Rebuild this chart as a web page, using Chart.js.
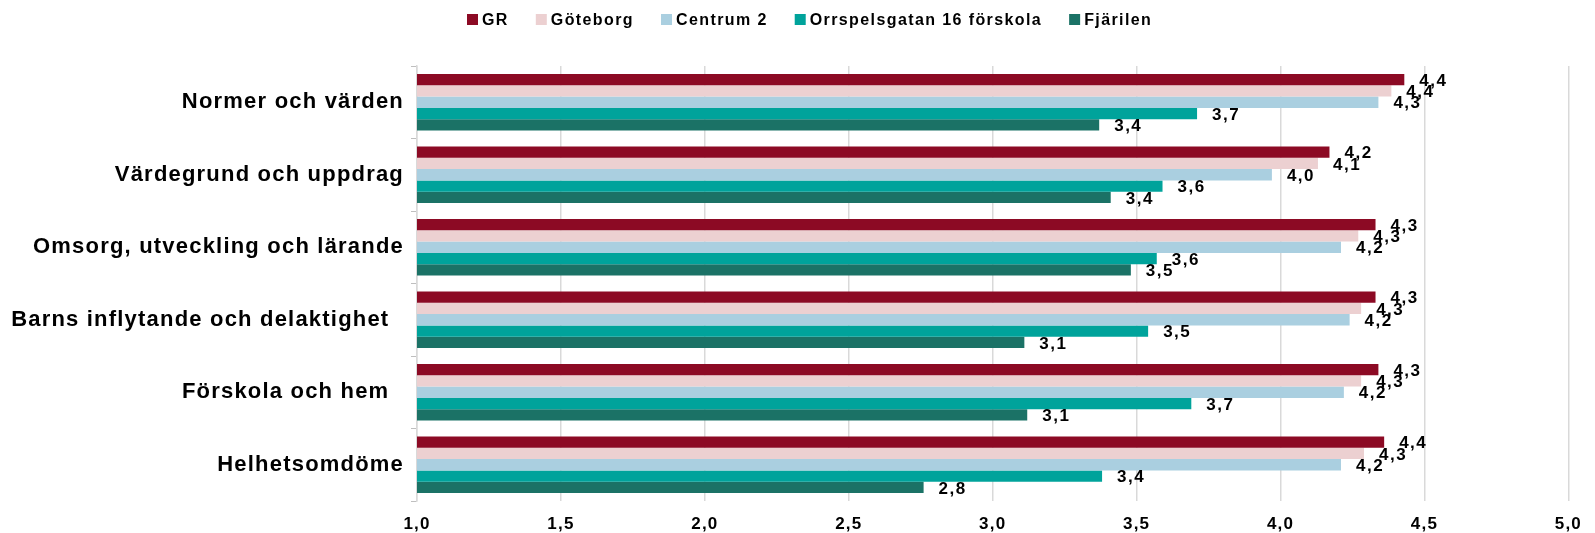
<!DOCTYPE html>
<html>
<head>
<meta charset="UTF-8">
<title>Förskola</title>
<script src="https://cdn.jsdelivr.net/npm/chart.js@4"></script>
<style>
  html, body { margin: 0; padding: 0; background: #fff; }
  canvas { display: block; }
</style>
</head>
<body>
<canvas id="chart" width="1595" height="533"></canvas>
<script>
const categories = [
  'Normer och värden',
  'Värdegrund och uppdrag',
  'Omsorg, utveckling och lärande',
  'Barns inflytande och delaktighet  ',
  'Förskola och hem  ',
  'Helhetsomdöme'
];
const seriesNames = ['GR', 'Göteborg', 'Centrum 2', 'Orrspelsgatan 16 förskola', 'Fjärilen'];
const grValues       = [4.43, 4.17, 4.33, 4.33, 4.34, 4.36];
const goteborgValues = [4.385, 4.13, 4.27, 4.28, 4.28, 4.29];
const centrumValues  = [4.34, 3.97, 4.21, 4.24, 4.22, 4.21];
const orrspelsValues = [3.71, 3.59, 3.57, 3.54, 3.69, 3.38];
const fjarilenValues = [3.37, 3.41, 3.48, 3.11, 3.12, 2.76];
const xMin = 1, xMax = 5, xStep = 0.5;

const colors = ['#8c0a24', '#ecd0d1', '#aacfe0', '#00a39b', '#1b7266'];
const FONT = '"Liberation Sans", Arial, sans-serif';

function fmt(v) {
  return v.toFixed(1).replace('.', ',');
}

// letter spacing is not a chart.js option, so set it on the context
const spacing = {
  id: 'spacing',
  beforeUpdate(chart) { chart.ctx.letterSpacing = '1.2px'; },
  beforeDraw(chart) { chart.ctx.letterSpacing = '1.2px'; }
};

const valueLabels = {
  id: 'valueLabels',
  afterDatasetsDraw(chart) {
    const ctx = chart.ctx;
    ctx.save();
    ctx.letterSpacing = '1.5px';
    ctx.font = 'bold 17px ' + FONT;
    ctx.fillStyle = '#000';
    ctx.textAlign = 'left';
    ctx.textBaseline = 'middle';
    chart.data.datasets.forEach((ds, i) => {
      chart.getDatasetMeta(i).data.forEach((bar, j) => {
        ctx.fillText(fmt(ds.data[j]), bar.x + 15, bar.y + 1.5);
      });
    });
    ctx.restore();
  }
};

const topLegend = {
  id: 'topLegend',
  afterDraw(chart) {
    const ctx = chart.ctx;
    ctx.save();
    ctx.letterSpacing = '1.4px';
    ctx.font = 'bold 16px ' + FONT;
    ctx.textBaseline = 'middle';
    ctx.textAlign = 'left';
    let x = 467;
    const y = 19.5;
    chart.data.datasets.forEach(ds => {
      ctx.fillStyle = ds.backgroundColor;
      ctx.fillRect(x, y - 5.5, 11, 11);
      ctx.fillStyle = '#000';
      ctx.fillText(ds.label, x + 15, y + 1);
      x += 15 + ctx.measureText(ds.label).width + 27;
    });
    ctx.restore();
  }
};

const allValues = [grValues, goteborgValues, centrumValues, orrspelsValues, fjarilenValues];

new Chart(document.getElementById('chart').getContext('2d'), {
  type: 'bar',
  data: {
    labels: categories,
    datasets: seriesNames.map((name, i) => ({
      label: name,
      data: allValues[i],
      backgroundColor: colors[i],
      borderWidth: 0,
      categoryPercentage: 0.78,
      barPercentage: 1.0
    }))
  },
  options: {
    indexAxis: 'y',
    responsive: false,
    animation: false,
    devicePixelRatio: 1,
    layout: { padding: { top: 66, right: 18, left: 0, bottom: 0 } },
    plugins: {
      legend: { display: false },
      tooltip: { enabled: false }
    },
    scales: {
      x: {
        min: xMin,
        max: xMax,
        ticks: {
          stepSize: xStep,
          padding: 13,
          color: '#000',
          font: { family: FONT, size: 17, weight: 'bold' },
          callback: v => fmt(v)
        },
        grid: { color: '#d9d9d9', lineWidth: 1.5, drawTicks: false },
        border: { display: false },
        afterFit(scale) { scale.height = 32; }
      },
      y: {
        ticks: {
          padding: 7,
          color: '#000',
          font: { family: FONT, size: 22, weight: 'bold' }
        },
        grid: { drawOnChartArea: false, drawTicks: true, tickLength: 6, color: '#bfbfbf', offset: true },
        border: { display: true, color: '#d9d9d9', width: 1.5 },
        afterFit(scale) { scale.width = 417; }
      }
    }
  },
  plugins: [spacing, valueLabels, topLegend]
});
</script>
</body>
</html>
